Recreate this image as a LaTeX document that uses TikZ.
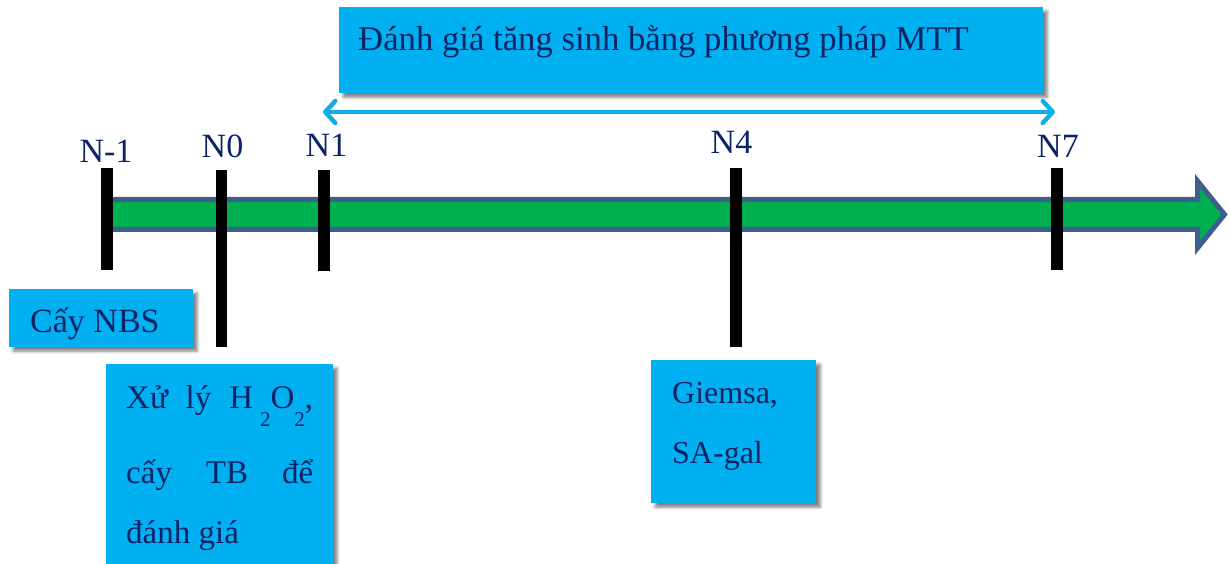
\documentclass[tikz,border=0pt]{standalone}
\usepackage{fontspec}
\setmainfont{Liberation Serif}
\usetikzlibrary{arrows.meta,shadows.blur}

\definecolor{boxcyan}{HTML}{00B0F0}
\definecolor{spancyan}{HTML}{10AEEC}
\definecolor{navy}{HTML}{0C2466}
\definecolor{shaftgreen}{HTML}{00B050}
\definecolor{shaftedge}{HTML}{3E5E8E}

% lowered subscript digit, as set in the slide
\newcommand{\lowsub}[1]{\raisebox{-18pt}{\fontsize{21}{21}\selectfont #1}}

\begin{document}
\begin{tikzpicture}[x=1pt,y=-1pt,
  infobox/.style={fill=boxcyan, draw=none, inner sep=0pt, anchor=north west,
    blur shadow={shadow xshift=4pt, shadow yshift=-4pt, shadow blur radius=3pt, shadow opacity=50}},
  txt/.style={text=navy, font=\fontsize{34}{40}\selectfont, inner sep=0pt, anchor=base west},
  boxtxt/.style={txt, font=\fontsize{33}{40}\selectfont},
  ticklabel/.style={text=navy, font=\fontsize{34}{40}\selectfont, inner sep=0pt, anchor=base},
  tickbar/.style={line width=11.5pt, black},
  span/.style={spancyan, line width=4.5pt,
    {Straight Barb[length=10pt,width=22pt,round]}-{Straight Barb[length=10pt,width=22pt,round]}}
]
\useasboundingbox (0,0) rectangle (1229,564);

% time axis: thick green arrow with blue-grey outline
\draw[fill=shaftgreen, draw=shaftedge, line width=5pt, line join=miter]
  (104,199.5) -- (1197.5,199.5) -- (1197.5,181) -- (1224.5,214.5)
  -- (1197.5,248) -- (1197.5,229.5) -- (104,229.5) -- cycle;

% tick marks
\coordinate (m1top) at (107,168);  \coordinate (m1bot) at (107,270);
\coordinate (n0top) at (221.5,170); \coordinate (n0bot) at (221.5,347);
\coordinate (n1top) at (324,170);  \coordinate (n1bot) at (324,271);
\coordinate (n4top) at (736,168);  \coordinate (n4bot) at (736,347);
\coordinate (n7top) at (1057,168); \coordinate (n7bot) at (1057,270);
\draw[tickbar] (m1top) -- (m1bot);
\draw[tickbar] (n0top) -- (n0bot);
\draw[tickbar] (n1top) -- (n1bot);
\draw[tickbar] (n4top) -- (n4bot);
\draw[tickbar] (n7top) -- (n7bot);

% tick labels
\node[ticklabel] (lm1) at (106,163) {N-1};
\node[ticklabel] (l0)  at (222.5,158) {N0};
\node[ticklabel] (l1)  at (326.5,157) {N1};
\node[ticklabel] (l4)  at (731.5,154) {N4};
\node[ticklabel] (l7)  at (1058,158) {N7};

% MTT assessment period
\node[infobox, minimum width=704pt, minimum height=86pt] (mttbox) at (339,7) {};
\node[txt, font=\fontsize{34.7}{40}\selectfont] (mtttext) at (358,51) {Đánh giá tăng sinh bằng phương pháp MTT};
\coordinate (spanL) at (323,112);
\coordinate (spanR) at (1055,112);
\draw[span] (spanL) -- (spanR);

% day -1
\node[infobox, minimum width=184pt, minimum height=58pt] (nbsbox) at (9,289) {};
\node[txt] (nbstext) at (30,332) {Cấy NBS};

% day 0
\node[infobox, minimum width=227pt, minimum height=205pt] (hbox) at (106,364) {};
\node[boxtxt] (hline1) at (126,408)
  {\makebox[187pt][l]{Xử\hfill lý\hfill H\hspace{7pt}\lowsub{2}O\lowsub{2},}};
\node[boxtxt] (hline2) at (126,483) {\makebox[187pt][l]{cấy\hfill TB\hfill để}};
\node[boxtxt] (hline3) at (126,543) {đánh giá};

% day 4
\node[infobox, minimum width=165pt, minimum height=143pt] (gbox) at (651,360) {};
\node[boxtxt, font=\fontsize{32}{40}\selectfont] (gline1) at (672,403) {Giemsa,};
\node[boxtxt, font=\fontsize{32}{40}\selectfont] (gline2) at (672,463) {SA-gal};
\end{tikzpicture}
\end{document}
